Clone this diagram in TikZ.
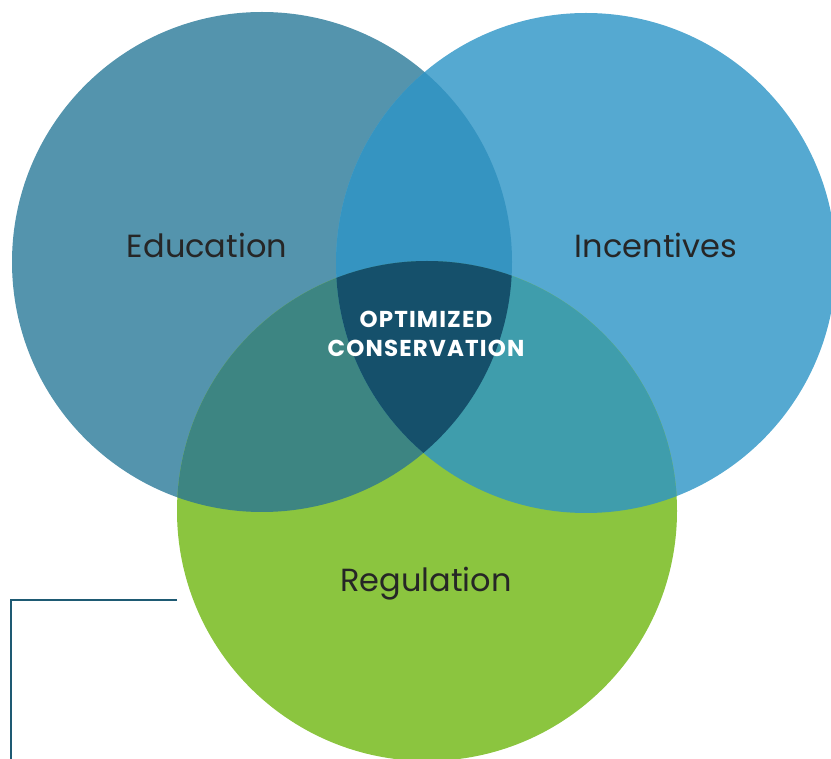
\documentclass[tikz,border=0pt]{standalone}
\usepackage{fontspec}
\setmainfont{Poppins}
\definecolor{eduC}{HTML}{5494AD}
\definecolor{incC}{HTML}{55A9D1}
\definecolor{regC}{HTML}{8BC53F}
\definecolor{eiC}{HTML}{3594C1}
\definecolor{erC}{HTML}{3D8582}
\definecolor{irC}{HTML}{3F9DAC}
\definecolor{allC}{HTML}{15506B}
\definecolor{lineC}{HTML}{1E5A73}
\tikzset{
  setlabel/.style={text=black!85, font=\fontsize{32}{36}\selectfont},
  corelabel/.style={text=white, font=\bfseries\fontsize{23}{29}\selectfont\addfontfeature{LetterSpace=5}, align=center},
  bracket/.style={draw=lineC, line width=2.5pt}
}
\begin{document}
\begin{tikzpicture}[x=1pt,y=-1pt]
\useasboundingbox (0,0) rectangle (831,759);
\clip (0,0) rectangle (831,759);
\def\edu{(262,262) circle (250)}
\def\inc{(586,263) circle (250)}
\def\reg{(427,511) circle (250)}
% the three sets
\fill[eduC] \edu;
\fill[incC] \inc;
\fill[regC] \reg;
% pairwise overlaps
\begin{scope}\clip \edu; \fill[eiC] \inc; \end{scope}
\begin{scope}\clip \edu; \fill[erC] \reg; \end{scope}
\begin{scope}\clip \inc; \fill[irC] \reg; \end{scope}
% common core
\begin{scope}\clip \edu; \clip \inc; \fill[allC] \reg; \end{scope}
% labels
\node[setlabel] (education) at (207,245) {Education};
\node[setlabel] (incentives) at (656,245) {Incentives};
\node[setlabel] (regulation) at (426,584) {Regulation};
\node[corelabel] (core) at (426,334) {OPTIMIZED\\CONSERVATION};
% bracket leading off the regulation circle
\coordinate (regleft) at (177,600);
\coordinate (corner) at (11,600);
\coordinate (down) at (11,760);
\draw[bracket] (regleft) -- (corner) -- (down);
\end{tikzpicture}
\end{document}
